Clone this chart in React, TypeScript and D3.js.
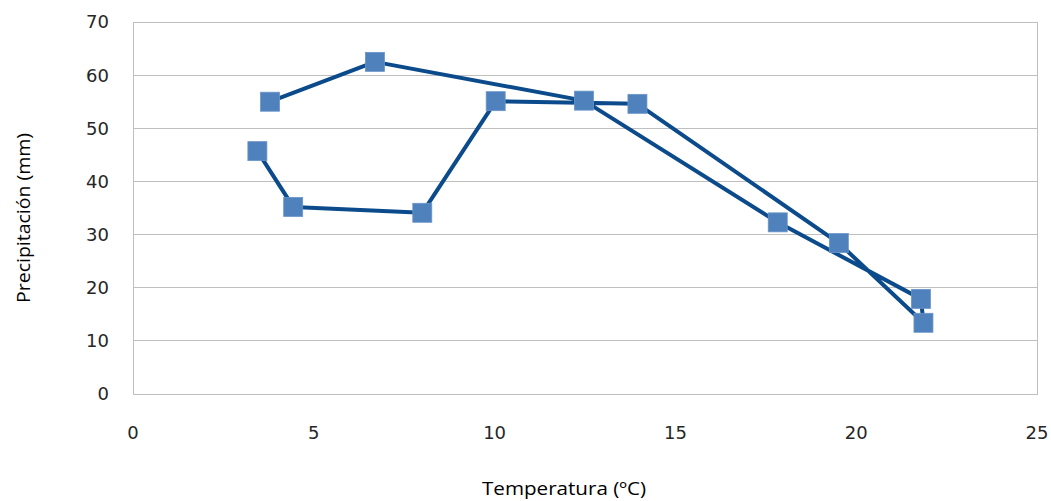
import React from "react";
import * as d3 from "d3";

const temperature = [3.44, 4.43, 8.0, 10.03, 13.95, 19.52, 21.86, 21.79, 17.83, 12.47, 6.69, 3.79];
const precipitation = [45.7, 35.2, 34.1, 55.1, 54.6, 28.4, 13.4, 17.9, 32.3, 55.2, 62.5, 55.0];
const xTicks = [0, 5, 10, 15, 20, 25];
const yTicks = [0, 10, 20, 30, 40, 50, 60, 70];

const W = 1051;
const H = 501;
const left = 133;
const right = 1037;
const top = 22;
const bottom = 394;

export default function App() {
  const x = d3.scaleLinear().domain([0, 25]).range([left, right]);
  const y = d3.scaleLinear().domain([0, 70]).range([bottom, top]);
  const pts = temperature.map((t, i) => [t, precipitation[i]] as [number, number]);
  const line = d3.line<[number, number]>().x((d) => x(d[0])).y((d) => y(d[1]));
  const font = "'Open Sans', sans-serif";
  const tickFont = "'DejaVu Sans', sans-serif";
  const ms = 19;
  return (
    <svg width={W} height={H} style={{ position: "absolute", left: 0, top: 0, background: "#fff" }}>
      {yTicks.map((t) => (
        <line key={"g" + t} x1={left} x2={right} y1={y(t)} y2={y(t)} stroke="#BFBFBF" strokeWidth={1} shapeRendering="crispEdges" />
      ))}
      <rect x={left} y={top} width={right - left} height={bottom - top} fill="none" stroke="#BFBFBF" strokeWidth={1} shapeRendering="crispEdges" />
      {yTicks.map((t) => (
        <text key={"y" + t} x={109} y={y(t)} dy="0.36em" textAnchor="end" fontFamily={tickFont} fontSize={18} fill="#262626">
          {t}
        </text>
      ))}
      {xTicks.map((t) => (
        <text key={"x" + t} x={x(t)} y={433} dy="0.36em" textAnchor="middle" fontFamily={tickFont} fontSize={18} fill="#262626">
          {t}
        </text>
      ))}
      <text x={564} y={495} textAnchor="middle" fontFamily={font} fontSize={18} fill="#000" textLength={164} lengthAdjust="spacingAndGlyphs">
        Temperatura (ºC)
      </text>
      <text transform={`translate(30,218) rotate(-90)`} textAnchor="middle" fontFamily={font} fontSize={18} fill="#000" textLength={170} lengthAdjust="spacingAndGlyphs">
        Precipitación (mm)
      </text>
      <path d={line(pts) || ""} fill="none" stroke="#0B4A8B" strokeWidth={4} strokeLinejoin="round" />
      {pts.map((d, i) => (
        <rect key={"m" + i} x={x(d[0]) - ms / 2} y={y(d[1]) - ms / 2} width={ms} height={ms} fill="#4F81BD" stroke="#6A95CA" strokeWidth={0.8} />
      ))}
    </svg>
  );
}
